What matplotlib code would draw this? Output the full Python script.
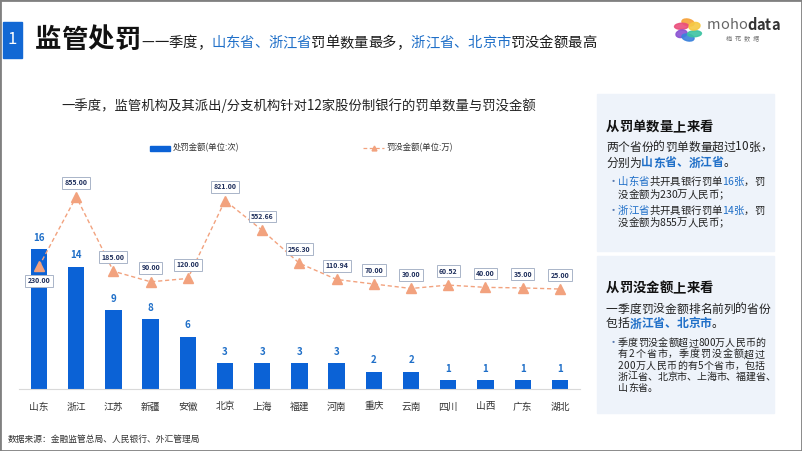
import math
import matplotlib
matplotlib.use("Agg")
import matplotlib.pyplot as plt
from matplotlib.patches import Rectangle, Ellipse
from matplotlib.lines import Line2D

plt.rcParams["font.family"] = ["Noto Sans CJK SC", "DejaVu Sans"]

# === Data ===
provinces = ["山东", "浙江", "江苏", "新疆", "安徽", "北京", "上海", "福建",
             "河南", "重庆", "云南", "四川", "山西", "广东", "湖北"]
counts = [16, 14, 9, 8, 6, 3, 3, 3, 3, 2, 2, 1, 1, 1, 1]
amounts = [230.00, 855.00, 185.00, 90.00, 120.00, 821.00, 552.66, 256.30,
           110.94, 70.00, 30.00, 60.52, 40.00, 35.00, 25.00]

chart_title = "一季度，监管机构及其派出/分支机构针对12家股份制银行的罚单数量与罚没金额"
bar_legend = "处罚金额(单位:次)"
line_legend = "罚没金额(单位:万)"
source = "数据来源：金融监管总局、人民银行、外汇管理局"

W, H = 802, 451
BLUE = "#0b62d6"
ORANGE = "#f2a27e"
TXT_BLUE = "#1f6fc8"
DARK = "#1a1a1a"


def fx(x):
    return x / W


def fy(y):
    return 1 - y / H


fig = plt.figure(figsize=(W / 100, H / 100), dpi=100)
renderer = fig.canvas.get_renderer()
_widths = {}


def text_width(txt, size, weight="normal"):
    key = (txt, size, weight)
    if key not in _widths:
        t = fig.text(0, 0, txt, fontsize=size, fontweight=weight)
        _widths[key] = t.get_window_extent(renderer).width
        t.remove()
    return _widths[key]


def rich_text(x, y, parts, size, gap=0.0):
    """Draw coloured segments glyph by glyph so runs join without drift."""
    for txt, color, weight in parts:
        for ch in txt:
            fig.text(fx(x), fy(y), ch, fontsize=size, color=color,
                     fontweight=weight, va="center", ha="left")
            x += text_width(ch, size, weight) + gap
    return x


def justified(x, y, txt, size, right, color="#222222"):
    """Spread characters so the line runs from x to right."""
    natural = sum(text_width(ch, size) for ch in txt)
    gap = (right - x - natural) / max(len(txt) - 1, 1)
    rich_text(x, y, [(txt, color, "normal")], size, gap)


# === Header ===
fig.patches.append(Rectangle((fx(3), fy(58)), fx(19), 36 / H,
                             transform=fig.transFigure, color="#1268d4"))
fig.text(fx(12.5), fy(40), "1", fontsize=12, color="white", ha="center", va="center")
x = rich_text(35, 40, [("监管处罚", "#111111", "bold")], 19)
rich_text(x + 1, 43, [("—一季度，", DARK, "normal"),
                      ("山东省、浙江省", TXT_BLUE, "normal"),
                      ("罚单数量最多，", DARK, "normal"),
                      ("浙江省、北京市", TXT_BLUE, "normal"),
                      ("罚没金额最高", DARK, "normal")], 10.3)

# logo
petal_colors = ["#f6a33b", "#ea4f7c", "#8b52d2", "#3b82dc", "#3cc3a2", "#f6c945"]
for k, c in enumerate(petal_colors):
    ang = 90 + k * 60
    cx = 688 + 7.5 * math.cos(math.radians(ang))
    cy = 30 - 7.5 * math.sin(math.radians(ang))
    fig.patches.append(Ellipse((fx(cx), fy(cy)), 14 / W, 6 / H, angle=ang + 40,
                               transform=fig.transFigure, color=c, alpha=0.9))
x = rich_text(707, 25, [("moho", "#666666", "normal")], 10.5)
rich_text(x, 25, [("data", "#333333", "bold")], 10.5)
fig.text(fx(743), fy(38), "梅  花  数  据", fontsize=4.5, color="#777777",
         ha="center", va="center")

# === Chart ===
fig.text(fx(299), fy(106), chart_title, fontsize=9.6, color="#222222",
         ha="center", va="center")

fig.patches.append(Rectangle((fx(150), fy(151)), 20 / W, 5 / H,
                             transform=fig.transFigure, color=BLUE))
fig.text(fx(173), fy(148), bar_legend, fontsize=6, color="#333333", va="center")
fig.lines.append(Line2D([fx(363), fx(384)], [fy(148), fy(148)], transform=fig.transFigure,
                        color=ORANGE, lw=0.9, ls=(0, (3, 2))))
fig.lines.append(Line2D([fx(374)], [fy(148)], transform=fig.transFigure, color=ORANGE,
                        marker="^", markersize=3.5, lw=0))
fig.text(fx(386), fy(148), line_legend, fontsize=6, color="#333333", va="center")

ax = fig.add_axes([fx(19), fy(389), 561 / W, 209 / H])
xs = list(range(len(provinces)))
ax.bar(xs, counts, width=0.44, color=BLUE, zorder=2)
for i, v in enumerate(counts):
    ax.annotate(str(v), (i, v), xytext=(0, 8), textcoords="offset points",
                ha="center", va="center", fontsize=7, fontweight="bold", color=TXT_BLUE)
ax.set_xlim(-0.538, 14.54)
ax.set_ylim(0, 23.9)
ax.set_xticks(xs)
ax.set_xticklabels(provinces, fontsize=7, color="#333333")
ax.tick_params(axis="x", length=0, pad=9)
ax.set_yticks([])
for s in ["top", "right", "left"]:
    ax.spines[s].set_visible(False)
ax.spines["bottom"].set_color("#d9d9d9")
ax.patch.set_alpha(0)

ax2 = ax.twinx()
ax2.plot(xs, amounts, color=ORANGE, lw=1, ls=(0, (3, 2)), marker="^",
         markersize=6.5, markerfacecolor=ORANGE, markeredgecolor=ORANGE, zorder=3)
for i, v in enumerate(amounts):
    # put the label under the point when the bar reaches above it
    off = -10.5 if counts[i] * 8.75 > (v + 874) / 8.993 else 10
    ax2.annotate(f"{v:.2f}", (i, v), xytext=(0, off), textcoords="offset points",
                 ha="center", va="center", fontsize=5, fontweight="bold", color="#1f2f5c",
                 bbox=dict(boxstyle="square,pad=0.35", fc="white", ec="#a9b4c8", lw=0.7))
ax2.set_ylim(-874, 1005.5)
ax2.set_yticks([])
for s in ["top", "right", "left", "bottom"]:
    ax2.spines[s].set_visible(False)

fig.text(fx(7.5), fy(439), source, fontsize=6.3, color="#333333", va="center")

# === Right panel ===
BOX = "#eef3fa"
fig.patches.append(Rectangle((fx(597), fy(251)), 177 / W, 157 / H,
                             transform=fig.transFigure, color=BOX))
fig.patches.append(Rectangle((fx(597), fy(413)), 177 / W, 157 / H,
                             transform=fig.transFigure, color=BOX))

rich_text(606, 127, [("从罚单数量上来看", "#111111", "bold")], 9.6)
rich_text(606, 147, [("两个省份的罚单数量超过10张，", "#222222", "normal")], 8.5)
rich_text(606, 163, [("分别为", "#222222", "normal"),
                     ("山东省、浙江省", TXT_BLUE, "bold"),
                     ("。", "#222222", "normal")], 8.5)
bullet_c = "#5a7bb0"
fig.text(fx(608), fy(182), "•", fontsize=8, color=bullet_c, va="center")
rich_text(618, 182, [("山东省", TXT_BLUE, "normal"), ("共开具银行罚单", "#222222", "normal"),
                     ("16张", TXT_BLUE, "normal"), ("，罚", "#222222", "normal")], 7.5)
rich_text(618, 195, [("没金额为230万人民币；", "#222222", "normal")], 7.5)
fig.text(fx(608), fy(211), "•", fontsize=8, color=bullet_c, va="center")
rich_text(618, 211, [("浙江省", TXT_BLUE, "normal"), ("共开具银行罚单", "#222222", "normal"),
                     ("14张", TXT_BLUE, "normal"), ("，罚", "#222222", "normal")], 7.5)
rich_text(618, 223, [("没金额为855万人民币；", "#222222", "normal")], 7.5)

rich_text(606, 288, [("从罚没金额上来看", "#111111", "bold")], 9.6)
rich_text(606, 309, [("一季度罚没金额排名前列的省份", "#222222", "normal")], 8.5)
rich_text(606, 324, [("包括", "#222222", "normal"),
                     ("浙江省、北京市", TXT_BLUE, "bold"),
                     ("。", "#222222", "normal")], 8.5)
fig.text(fx(608), fy(343), "•", fontsize=8, color=bullet_c, va="center")
lines2 = ["季度罚没金额超过800万人民币的", "有2个省市，季度罚没金额超过",
          "200万人民币的有5个省市，包括", "浙江省、北京市、上海市、福建省、"]
rights = [765, 765, 765, 775]
for k, ln in enumerate(lines2):
    justified(618, 343 + k * 11.3, ln, 7.2, rights[k])
rich_text(618, 343 + 4 * 11.3, [("山东省。", "#222222", "normal")], 7.2)

# frame
fig.patches.append(Rectangle((0, 0), 1, 1, transform=fig.transFigure, fill=False,
                             ec="#808080", lw=2))

fig.savefig("out.png", dpi=100)
